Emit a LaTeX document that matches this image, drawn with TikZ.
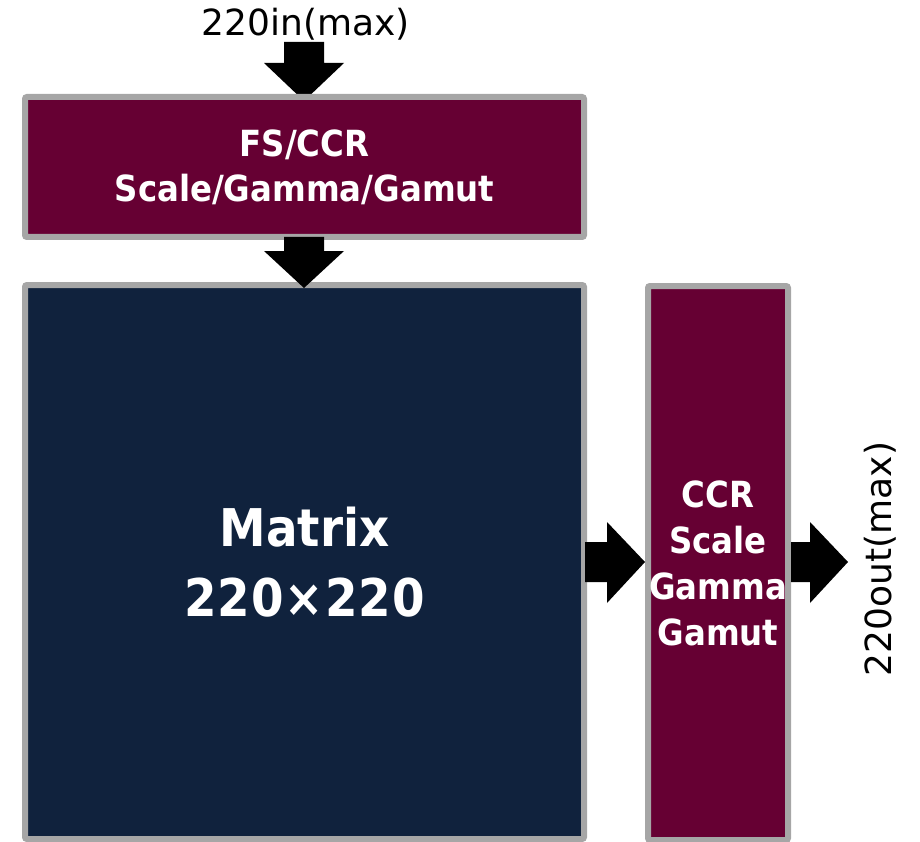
\documentclass[tikz,border=0pt]{standalone}
\usepackage{fontspec}
\setmainfont{DejaVu Sans}
\newfontfamily\boxfont{DejaVu Sans Condensed Bold}
\definecolor{maroon}{RGB}{102,0,51}
\definecolor{navy}{RGB}{16,34,61}
\definecolor{edge}{RGB}{166,166,166}
\begin{document}
\begin{tikzpicture}[x=1pt,y=-1pt,
  blk/.style={draw=edge,line width=6pt,rounded corners=2pt,inner sep=0pt,text=white,align=center},
  lbl/.style={inner sep=0pt,font=\fontsize{36}{40}\selectfont,text=black},
  barrow/.style={fill=black}]
\useasboundingbox (0,0) rectangle (920,842);
% top input arrow (under the box)
\fill[barrow] (284,42) -- (324,42) -- (324,63) -- (344,63) -- (304,101) -- (264,63) -- (284,63) -- cycle;
\node[blk,fill=maroon,minimum width=559pt,minimum height=140pt,
  font=\boxfont\fontsize{36}{45}\selectfont] (top) at (304.5,167) {FS/CCR\\Scale/Gamma/Gamut};
\node[blk,fill=navy,minimum width=559pt,minimum height=554pt,
  font=\boxfont\fontsize{52}{70}\selectfont] (mat) at (304.5,562) {Matrix\\\addfontfeatures{LetterSpace=2}220×220};
\node[blk,fill=maroon,minimum width=140pt,minimum height=554pt,
  font=\boxfont\fontsize{36}{46}\selectfont] (ccr) at (718,563) {CCR\\Scale\\Gamma\\Gamut};
% arrow top -> matrix
\fill[barrow] (284,237) -- (324,237) -- (324,251) -- (344,251) -- (304,288) -- (264,251) -- (284,251) -- cycle;
% arrow matrix -> ccr
\fill[barrow] (585,542) -- (607,542) -- (607,522) -- (645,562) -- (607,603) -- (607,582) -- (585,582) -- cycle;
% arrow ccr -> out
\fill[barrow] (791,542) -- (810,542) -- (810,522) -- (848,562) -- (810,603) -- (810,582) -- (791,582) -- cycle;
\node[lbl] (in) at (306,24) {220in(max)};
\node[lbl,rotate=90] (out) at (880,559) {220out(max)};
\end{tikzpicture}
\end{document}
